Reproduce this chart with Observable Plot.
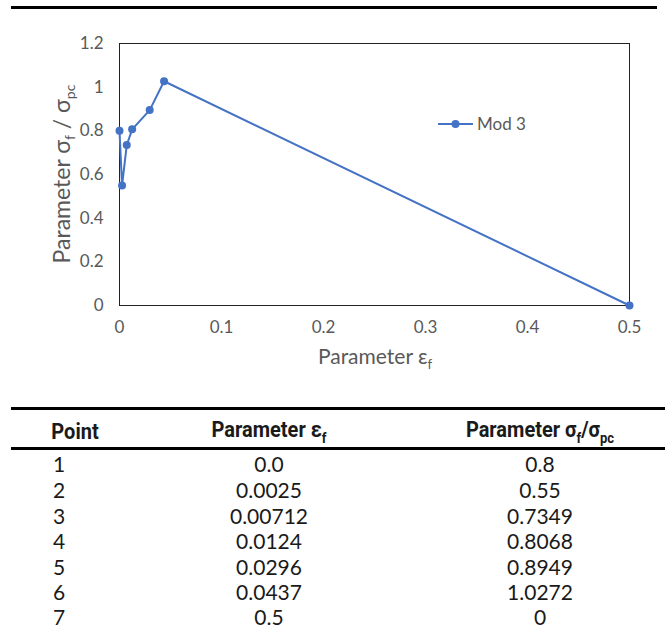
<!DOCTYPE html>
<html>
<head>
<meta charset="utf-8">
<script src="https://cdn.jsdelivr.net/npm/d3@7"></script>
<script src="https://cdn.jsdelivr.net/npm/@observablehq/plot@0.6"></script>
<style>
  html, body { margin: 0; padding: 0; background: #fff; }
  #page { position: relative; width: 665px; height: 630px; overflow: hidden; font-family: "Lato", "DejaVu Sans", sans-serif; }
  #chart { position: absolute; left: 0; top: 0; }
  .rule { position: absolute; background: #000; }
  .cell { position: absolute; transform: translate(-50%, -50%); white-space: nowrap; color: #1a1a1a; font-size: 21px; }
  .head { font-weight: bold; font-size: 20px; font-family: "Liberation Sans Narrow", "Roboto", "Open Sans", sans-serif; transform: translate(-50%, -50%) scaleY(1.1); }
  .head sub { font-size: 13px; }
</style>
</head>
<body>
<div id="page">
  <div id="chart"></div>
</div>
<script>
// Mod 3 softening curve: strain parameter vs normalised stress
const points = [1, 2, 3, 4, 5, 6, 7];
const epsText = ["0.0", "0.0025", "0.00712", "0.0124", "0.0296", "0.0437", "0.5"];
const ratioText = ["0.8", "0.55", "0.7349", "0.8068", "0.8949", "1.0272", "0"];
const seriesName = "Mod 3";
const xTicks = [0, 0.1, 0.2, 0.3, 0.4, 0.5];
const yTicks = [0, 0.2, 0.4, 0.6, 0.8, 1, 1.2];

const data = points.map((p, i) => ({point: p, eps: +epsText[i], ratio: +ratioText[i]}));

const blue = "#4472C4";
const grey = "#595959";
const fmt = d3.format("~g");

const plot = Plot.plot({
  width: 665,
  height: 380,
  marginLeft: 119,
  marginRight: 36,
  marginTop: 43,
  marginBottom: 75,
  style: {fontFamily: "Lato, 'DejaVu Sans', sans-serif", fontSize: "17px", color: grey, background: "#fff"},
  x: {domain: [0, 0.5], ticks: xTicks, tickFormat: fmt, tickSize: 0, tickPadding: 15, label: null},
  y: {domain: [0, 1.2], ticks: yTicks, tickFormat: fmt, tickSize: 0, tickPadding: 16, label: null},
  marks: [
    Plot.frame({stroke: "#222", strokeWidth: 1}),
    Plot.line(data, {x: "eps", y: "ratio", stroke: blue, strokeWidth: 2}),
    Plot.dot(data, {x: "eps", y: "ratio", fill: blue, r: 4})
  ]
});
document.getElementById("chart").appendChild(plot);

// axis titles with subscripts, and the series legend
const svg = d3.select(plot);
const yTitle = svg.append("text")
  .attr("transform", "translate(70,174) rotate(-90)")
  .attr("text-anchor", "middle")
  .attr("fill", grey)
  .style("font-size", "23px");
yTitle.append("tspan").text("Parameter σ");
yTitle.append("tspan").attr("dy", 5).style("font-size", "14px").text("f");
yTitle.append("tspan").attr("dy", -5).text(" / σ");
yTitle.append("tspan").attr("dy", 5).style("font-size", "14px").text("pc");

const xTitle = svg.append("text")
  .attr("x", 375).attr("y", 364)
  .attr("text-anchor", "middle")
  .attr("fill", grey)
  .style("font-size", "21px");
xTitle.append("tspan").text("Parameter ε");
xTitle.append("tspan").attr("dy", 5).style("font-size", "13px").text("f");

const legend = svg.append("g").attr("transform", "translate(438,124)");
legend.append("line").attr("x1", 0).attr("x2", 35).attr("stroke", blue).attr("stroke-width", 2);
legend.append("circle").attr("cx", 17.5).attr("r", 4).attr("fill", blue);
legend.append("text").attr("x", 39).attr("dy", "0.35em").attr("fill", grey)
  .attr("text-anchor", "start")
  .style("font-size", "17px").text(seriesName);

// rules and table below the chart
const page = document.getElementById("page");
function rule(x, y, w, h) {
  const r = document.createElement("div");
  r.className = "rule";
  Object.assign(r.style, {left: x + "px", top: y + "px", width: w + "px", height: h + "px"});
  page.appendChild(r);
}
rule(11, 6, 646, 2.5);
rule(11, 407, 654, 2.5);
rule(11, 447, 654, 2.5);

function cell(html, cx, cy, cls) {
  const c = document.createElement("div");
  c.className = "cell" + (cls ? " " + cls : "");
  c.innerHTML = html;
  c.style.left = cx + "px";
  c.style.top = cy + "px";
  page.appendChild(c);
}
const colX = [75, 269, 540];
cell("Point", colX[0], 431, "head");
cell("Parameter ε<sub>f</sub>", colX[1], 431, "head");
cell("Parameter σ<sub>f</sub>/σ<sub>pc</sub>", colX[2], 431, "head");
const rowY = [463, 489, 515, 540, 566, 591, 616];
points.forEach((p, i) => {
  cell(String(p), 59, rowY[i]);
  cell(epsText[i], colX[1], rowY[i]);
  cell(ratioText[i], colX[2], rowY[i]);
});
</script>
</body>
</html>
